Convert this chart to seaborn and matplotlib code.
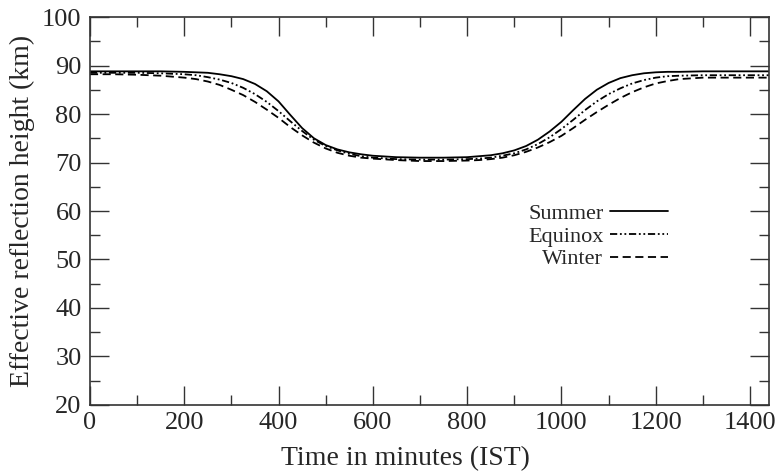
import numpy as np
import pandas as pd
import matplotlib
matplotlib.use("Agg")
import matplotlib.pyplot as plt
import seaborn as sns
from matplotlib.ticker import MultipleLocator

time_min = [0, 50, 100, 150, 200, 225, 250, 275, 300, 325, 350, 375, 400, 425, 450, 475,
            500, 525, 550, 575, 600, 650, 700, 750, 800, 825, 850, 875, 900, 925, 950, 975,
            1000, 1025, 1050, 1075, 1100, 1125, 1150, 1175, 1200, 1225, 1250, 1300, 1350, 1440]
summer = [88.8, 88.8, 88.8, 88.8, 88.7, 88.6, 88.5, 88.2, 87.8, 87.2, 86.2, 84.7, 82.6, 79.8, 77.1, 75.0,
          73.6, 72.7, 72.1, 71.7, 71.4, 71.1, 71.0, 71.0, 71.1, 71.3, 71.5, 71.9, 72.5, 73.4, 74.7, 76.4,
          78.4, 80.8, 83.1, 85.0, 86.4, 87.4, 88.0, 88.4, 88.6, 88.7, 88.7, 88.8, 88.8, 88.8]
equinox = [88.5, 88.5, 88.5, 88.4, 88.2, 88.0, 87.6, 87.1, 86.4, 85.4, 84.1, 82.5, 80.6, 78.5, 76.5, 74.7,
           73.4, 72.5, 71.8, 71.3, 71.0, 70.7, 70.6, 70.6, 70.7, 70.8, 71.0, 71.4, 71.9, 72.7, 73.8, 75.2,
           76.9, 78.8, 80.8, 82.6, 84.1, 85.3, 86.3, 87.0, 87.5, 87.8, 87.9, 88.0, 88.0, 88.0]
winter = [88.2, 88.2, 88.1, 87.9, 87.5, 87.2, 86.7, 86.0, 85.0, 83.9, 82.5, 80.9, 79.2, 77.3, 75.6, 74.1,
          72.9, 72.0, 71.4, 71.0, 70.8, 70.5, 70.3, 70.3, 70.4, 70.5, 70.7, 71.0, 71.5, 72.2, 73.1, 74.2,
          75.5, 77.1, 78.8, 80.4, 81.9, 83.3, 84.5, 85.5, 86.3, 86.8, 87.2, 87.5, 87.5, 87.5]
seasons = ["Summer", "Equinox", "Winter"]

df = pd.concat([
    pd.DataFrame({"t": time_min, "h": vals, "season": name})
    for name, vals in zip(seasons, [summer, equinox, winter])
])

sns.set_style("white")
plt.rcParams["font.family"] = ["Liberation Serif", "DejaVu Serif"]

fig = plt.figure(figsize=(7.79, 4.73), dpi=100)
ax = fig.add_axes([0.1155, 0.1438, 0.987 - 0.1155, 0.964 - 0.1438])

dashes = {"Summer": "", "Equinox": (4, 1.5, 1, 1.5, 1, 1.5), "Winter": (4.5, 2.5)}
sns.lineplot(data=df, x="t", y="h", hue="season", style="season",
             palette={s: "black" for s in seasons}, dashes=dashes,
             linewidth=1.3, ax=ax, legend=True)

ax.set_xlim(0, 1440)
ax.set_ylim(20, 100)
ax.xaxis.set_major_locator(MultipleLocator(200))
ax.xaxis.set_minor_locator(MultipleLocator(100))
ax.yaxis.set_major_locator(MultipleLocator(10))
ax.yaxis.set_minor_locator(MultipleLocator(5))
ax.tick_params(which="both", direction="in", top=True, right=True, bottom=True, left=True,
               labelsize=19, color="#333333", width=1)
ax.tick_params(which="major", length=14)
ax.tick_params(axis="x", which="major", pad=5)
ax.tick_params(axis="y", which="major", pad=6)
ax.tick_params(which="minor", length=7)
for sp in ax.spines.values():
    sp.set_color("#333333")
    sp.set_linewidth(1.2)

ax.set_xlabel("Time in minutes (IST)", fontsize=20)
ax.xaxis.set_label_coords(0.464, -0.105)
ax.set_ylabel("Effective reflection height (km)", fontsize=20, labelpad=5)

handles, labels = ax.get_legend_handles_labels()
leg = ax.legend(handles, labels, markerfirst=False, frameon=False, fontsize=16,
                loc="center", bbox_to_anchor=(0.748, 0.435), handlelength=2.6,
                labelspacing=0.1, handletextpad=0.3, borderpad=0)

fig.savefig("out.png", dpi=100)
